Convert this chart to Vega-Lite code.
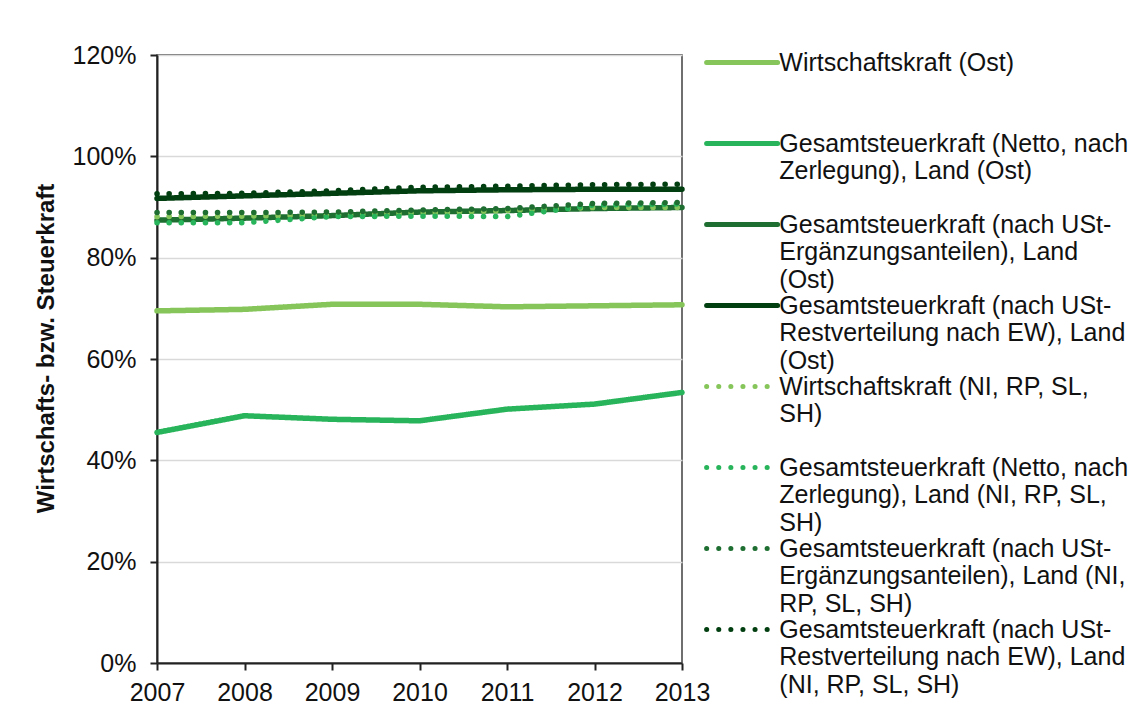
{
  "$schema": "https://vega.github.io/schema/vega-lite/v6.json",
  "width": 525,
  "height": 608,
  "autosize": "none",
  "padding": {"left": 157, "top": 55, "right": 450, "bottom": 59},
  "background": "white",
  "config": {
    "font": "Liberation Sans",
    "view": {"stroke": "#404040", "strokeWidth": 1.5},
    "axis": {
      "labelFont": "Liberation Sans",
      "labelFontSize": 25,
      "labelColor": "#111",
      "domainColor": "#222",
      "domainWidth": 2,
      "tickColor": "#222",
      "tickWidth": 2,
      "tickSize": 7
    }
  },
  "datasets": {
    "series": [
      {"year": 2007, "series": "Wirtschaftskraft (Ost)", "value": 0.695},
      {"year": 2008, "series": "Wirtschaftskraft (Ost)", "value": 0.698},
      {"year": 2009, "series": "Wirtschaftskraft (Ost)", "value": 0.708},
      {"year": 2010, "series": "Wirtschaftskraft (Ost)", "value": 0.708},
      {"year": 2011, "series": "Wirtschaftskraft (Ost)", "value": 0.703},
      {"year": 2012, "series": "Wirtschaftskraft (Ost)", "value": 0.705},
      {"year": 2013, "series": "Wirtschaftskraft (Ost)", "value": 0.707},
      {"year": 2007, "series": "Gesamtsteuerkraft (Netto, nach Zerlegung), Land (Ost)", "value": 0.455},
      {"year": 2008, "series": "Gesamtsteuerkraft (Netto, nach Zerlegung), Land (Ost)", "value": 0.488},
      {"year": 2009, "series": "Gesamtsteuerkraft (Netto, nach Zerlegung), Land (Ost)", "value": 0.481},
      {"year": 2010, "series": "Gesamtsteuerkraft (Netto, nach Zerlegung), Land (Ost)", "value": 0.478},
      {"year": 2011, "series": "Gesamtsteuerkraft (Netto, nach Zerlegung), Land (Ost)", "value": 0.501},
      {"year": 2012, "series": "Gesamtsteuerkraft (Netto, nach Zerlegung), Land (Ost)", "value": 0.511},
      {"year": 2013, "series": "Gesamtsteuerkraft (Netto, nach Zerlegung), Land (Ost)", "value": 0.534},
      {"year": 2007, "series": "Gesamtsteuerkraft (nach USt-Ergänzungsanteilen), Land (Ost)", "value": 0.874},
      {"year": 2008, "series": "Gesamtsteuerkraft (nach USt-Ergänzungsanteilen), Land (Ost)", "value": 0.878},
      {"year": 2009, "series": "Gesamtsteuerkraft (nach USt-Ergänzungsanteilen), Land (Ost)", "value": 0.883},
      {"year": 2010, "series": "Gesamtsteuerkraft (nach USt-Ergänzungsanteilen), Land (Ost)", "value": 0.890},
      {"year": 2011, "series": "Gesamtsteuerkraft (nach USt-Ergänzungsanteilen), Land (Ost)", "value": 0.893},
      {"year": 2012, "series": "Gesamtsteuerkraft (nach USt-Ergänzungsanteilen), Land (Ost)", "value": 0.897},
      {"year": 2013, "series": "Gesamtsteuerkraft (nach USt-Ergänzungsanteilen), Land (Ost)", "value": 0.899},
      {"year": 2007, "series": "Gesamtsteuerkraft (nach USt-Restverteilung nach EW), Land (Ost)", "value": 0.917},
      {"year": 2008, "series": "Gesamtsteuerkraft (nach USt-Restverteilung nach EW), Land (Ost)", "value": 0.922},
      {"year": 2009, "series": "Gesamtsteuerkraft (nach USt-Restverteilung nach EW), Land (Ost)", "value": 0.927},
      {"year": 2010, "series": "Gesamtsteuerkraft (nach USt-Restverteilung nach EW), Land (Ost)", "value": 0.932},
      {"year": 2011, "series": "Gesamtsteuerkraft (nach USt-Restverteilung nach EW), Land (Ost)", "value": 0.934},
      {"year": 2012, "series": "Gesamtsteuerkraft (nach USt-Restverteilung nach EW), Land (Ost)", "value": 0.935},
      {"year": 2013, "series": "Gesamtsteuerkraft (nach USt-Restverteilung nach EW), Land (Ost)", "value": 0.935},
      {"year": 2007, "series": "Wirtschaftskraft (NI, RP, SL, SH)", "value": 0.881},
      {"year": 2008, "series": "Wirtschaftskraft (NI, RP, SL, SH)", "value": 0.882},
      {"year": 2009, "series": "Wirtschaftskraft (NI, RP, SL, SH)", "value": 0.884},
      {"year": 2010, "series": "Wirtschaftskraft (NI, RP, SL, SH)", "value": 0.888},
      {"year": 2011, "series": "Wirtschaftskraft (NI, RP, SL, SH)", "value": 0.893},
      {"year": 2012, "series": "Wirtschaftskraft (NI, RP, SL, SH)", "value": 0.899},
      {"year": 2013, "series": "Wirtschaftskraft (NI, RP, SL, SH)", "value": 0.899},
      {"year": 2007, "series": "Gesamtsteuerkraft (Netto, nach Zerlegung), Land (NI, RP, SL, SH)", "value": 0.869},
      {"year": 2008, "series": "Gesamtsteuerkraft (Netto, nach Zerlegung), Land (NI, RP, SL, SH)", "value": 0.869},
      {"year": 2009, "series": "Gesamtsteuerkraft (Netto, nach Zerlegung), Land (NI, RP, SL, SH)", "value": 0.881},
      {"year": 2010, "series": "Gesamtsteuerkraft (Netto, nach Zerlegung), Land (NI, RP, SL, SH)", "value": 0.882},
      {"year": 2011, "series": "Gesamtsteuerkraft (Netto, nach Zerlegung), Land (NI, RP, SL, SH)", "value": 0.881},
      {"year": 2012, "series": "Gesamtsteuerkraft (Netto, nach Zerlegung), Land (NI, RP, SL, SH)", "value": 0.904},
      {"year": 2013, "series": "Gesamtsteuerkraft (Netto, nach Zerlegung), Land (NI, RP, SL, SH)", "value": 0.906},
      {"year": 2007, "series": "Gesamtsteuerkraft (nach USt-Ergänzungsanteilen), Land (NI, RP, SL, SH)", "value": 0.889},
      {"year": 2008, "series": "Gesamtsteuerkraft (nach USt-Ergänzungsanteilen), Land (NI, RP, SL, SH)", "value": 0.889},
      {"year": 2009, "series": "Gesamtsteuerkraft (nach USt-Ergänzungsanteilen), Land (NI, RP, SL, SH)", "value": 0.890},
      {"year": 2010, "series": "Gesamtsteuerkraft (nach USt-Ergänzungsanteilen), Land (NI, RP, SL, SH)", "value": 0.894},
      {"year": 2011, "series": "Gesamtsteuerkraft (nach USt-Ergänzungsanteilen), Land (NI, RP, SL, SH)", "value": 0.897},
      {"year": 2012, "series": "Gesamtsteuerkraft (nach USt-Ergänzungsanteilen), Land (NI, RP, SL, SH)", "value": 0.907},
      {"year": 2013, "series": "Gesamtsteuerkraft (nach USt-Ergänzungsanteilen), Land (NI, RP, SL, SH)", "value": 0.909},
      {"year": 2007, "series": "Gesamtsteuerkraft (nach USt-Restverteilung nach EW), Land (NI, RP, SL, SH)", "value": 0.926},
      {"year": 2008, "series": "Gesamtsteuerkraft (nach USt-Restverteilung nach EW), Land (NI, RP, SL, SH)", "value": 0.927},
      {"year": 2009, "series": "Gesamtsteuerkraft (nach USt-Restverteilung nach EW), Land (NI, RP, SL, SH)", "value": 0.932},
      {"year": 2010, "series": "Gesamtsteuerkraft (nach USt-Restverteilung nach EW), Land (NI, RP, SL, SH)", "value": 0.939},
      {"year": 2011, "series": "Gesamtsteuerkraft (nach USt-Restverteilung nach EW), Land (NI, RP, SL, SH)", "value": 0.941},
      {"year": 2012, "series": "Gesamtsteuerkraft (nach USt-Restverteilung nach EW), Land (NI, RP, SL, SH)", "value": 0.944},
      {"year": 2013, "series": "Gesamtsteuerkraft (nach USt-Restverteilung nach EW), Land (NI, RP, SL, SH)", "value": 0.945}
    ]
  },
  "layer": [
    {
      "mark": {"type": "rule", "color": "#111", "strokeWidth": 1.5, "strokeDash": [8, 10]},
      "encoding": {"y": {"datum": 1, "type": "quantitative"}}
    },
    {
      "data": {"name": "series"},
      "mark": {"type": "line", "strokeWidth": 5.5, "strokeCap": "round", "strokeJoin": "round"},
      "encoding": {
        "x": {
          "field": "year", "type": "quantitative",
          "scale": {"domain": [2007, 2013], "nice": false, "zero": false},
          "axis": {"values": [2007, 2008, 2009, 2010, 2011, 2012, 2013], "format": "d", "title": null, "grid": false, "labelPadding": 10, "labelFlush": false}
        },
        "y": {
          "field": "value", "type": "quantitative",
          "scale": {"domain": [0, 1.2], "nice": false},
          "axis": {
            "values": [0, 0.2, 0.4, 0.6, 0.8, 1.0, 1.2],
            "format": ".0%",
            "title": "Wirtschafts- bzw. Steuerkraft",
            "titleFont": "Liberation Sans",
            "titleFontSize": 24,
            "titleFontWeight": "bold",
            "titleColor": "#111",
            "titlePadding": 14,
            "titleY": 293,
            "labelPadding": 14,
            "grid": true,
            "gridColor": "#d9d9d9",
            "gridWidth": 1.5
          }
        },
        "color": {
          "field": "series", "type": "nominal", "sort": null,
          "scale": {
            "domain": [
              "Wirtschaftskraft (Ost)",
              "Gesamtsteuerkraft (Netto, nach Zerlegung), Land (Ost)",
              "Gesamtsteuerkraft (nach USt-Ergänzungsanteilen), Land (Ost)",
              "Gesamtsteuerkraft (nach USt-Restverteilung nach EW), Land (Ost)",
              "Wirtschaftskraft (NI, RP, SL, SH)",
              "Gesamtsteuerkraft (Netto, nach Zerlegung), Land (NI, RP, SL, SH)",
              "Gesamtsteuerkraft (nach USt-Ergänzungsanteilen), Land (NI, RP, SL, SH)",
              "Gesamtsteuerkraft (nach USt-Restverteilung nach EW), Land (NI, RP, SL, SH)"
            ],
            "range": ["#86c55a", "#28b45a", "#1d6e30", "#023f10", "#86c55a", "#28b45a", "#1d6e30", "#023f10"]
          },
          "legend": {
            "title": null,
            "orient": "none",
            "legendX": 572.6,
            "legendY": -5,
            "gridAlign": "all",
            "symbolType": "M-4,0H4",
            "symbolSize": 315,
            "symbolStrokeWidth": 5,
            "symbolFillColor": "transparent",
            "rowPadding": 0,
            "labelFont": "Liberation Sans",
            "labelFontSize": 25,
            "labelColor": "#111",
            "labelLimit": 500,
            "labelOffset": 24.7,
            "labelBaseline": "middle",
            "labelExpr": "datum.label == 'Wirtschaftskraft (Ost)' ? 'Wirtschaftskraft (Ost)' : datum.label == 'Gesamtsteuerkraft (Netto, nach Zerlegung), Land (Ost)' ? ['Gesamtsteuerkraft (Netto, nach', 'Zerlegung), Land (Ost)'] : datum.label == 'Gesamtsteuerkraft (nach USt-Ergänzungsanteilen), Land (Ost)' ? ['Gesamtsteuerkraft (nach USt-', 'Ergänzungsanteilen), Land', '(Ost)'] : datum.label == 'Gesamtsteuerkraft (nach USt-Restverteilung nach EW), Land (Ost)' ? ['Gesamtsteuerkraft (nach USt-', 'Restverteilung nach EW), Land', '(Ost)'] : datum.label == 'Wirtschaftskraft (NI, RP, SL, SH)' ? ['Wirtschaftskraft (NI, RP, SL,', 'SH)'] : datum.label == 'Gesamtsteuerkraft (Netto, nach Zerlegung), Land (NI, RP, SL, SH)' ? ['Gesamtsteuerkraft (Netto, nach', 'Zerlegung), Land (NI, RP, SL,', 'SH)'] : datum.label == 'Gesamtsteuerkraft (nach USt-Ergänzungsanteilen), Land (NI, RP, SL, SH)' ? ['Gesamtsteuerkraft (nach USt-', 'Ergänzungsanteilen), Land (NI,', 'RP, SL, SH)'] : ['Gesamtsteuerkraft (nach USt-', 'Restverteilung nach EW), Land', '(NI, RP, SL, SH)']",
            "encode": {
              "symbols": {"update": {"strokeCap": {"value": "round"}}},
              "labels": {"update": {"lineHeight": {"value": 27.5}}}
            }
          }
        },
        "strokeDash": {
          "field": "series", "type": "nominal", "sort": null,
          "scale": {
            "domain": [
              "Wirtschaftskraft (Ost)",
              "Gesamtsteuerkraft (Netto, nach Zerlegung), Land (Ost)",
              "Gesamtsteuerkraft (nach USt-Ergänzungsanteilen), Land (Ost)",
              "Gesamtsteuerkraft (nach USt-Restverteilung nach EW), Land (Ost)",
              "Wirtschaftskraft (NI, RP, SL, SH)",
              "Gesamtsteuerkraft (Netto, nach Zerlegung), Land (NI, RP, SL, SH)",
              "Gesamtsteuerkraft (nach USt-Ergänzungsanteilen), Land (NI, RP, SL, SH)",
              "Gesamtsteuerkraft (nach USt-Restverteilung nach EW), Land (NI, RP, SL, SH)"
            ],
            "range": [[1, 0], [1, 0], [1, 0], [1, 0], [0.1, 12], [0.1, 12], [0.1, 12], [0.1, 12]]
          },
          "legend": null
        },
        "order": {"field": "year"}
      }
    },
    {
      "mark": {"type": "rule", "color": "#222", "strokeWidth": 1.5, "clip": false},
      "encoding": {
        "x": {"datum": 2005.33, "type": "quantitative"},
        "y": {"datum": 1.289, "type": "quantitative"},
        "y2": {"datum": -0.2}
      }
    },
    {
      "mark": {"type": "rule", "color": "#222", "strokeWidth": 1.5, "clip": false},
      "encoding": {
        "x": {"datum": 2005.33, "type": "quantitative"},
        "x2": {"datum": 2020},
        "y": {"datum": 1.289, "type": "quantitative"}
      }
    }
  ]
}
